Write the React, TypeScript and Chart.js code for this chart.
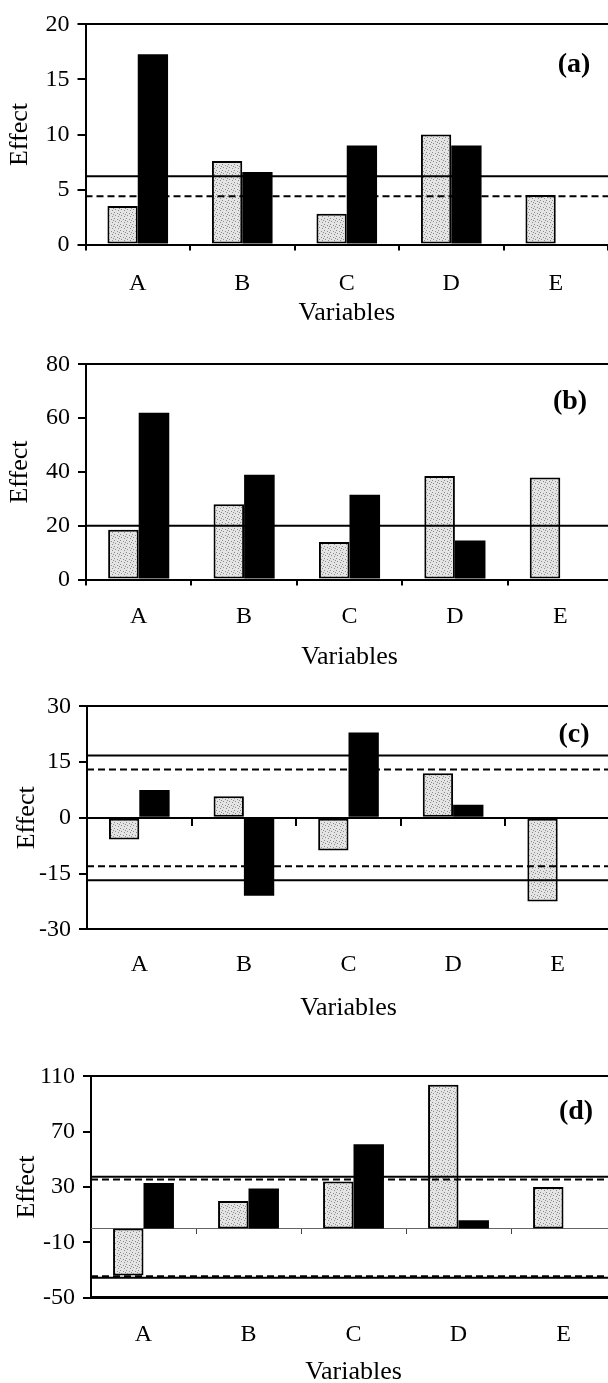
import React, { useEffect, useRef } from 'react';
import { Chart, registerables } from 'chart.js';

Chart.register(...registerables);

// ---------------- data ----------------
const categories = ['A', 'B', 'C', 'D', 'E'];

const greyA = [3.5, 7.6, 2.8, 10.0, 4.5];
const blackA = [17.3, 6.6, 9.0, 9.0, null];
const yTicksA = [0, 5, 10, 15, 20];
const solidA = [6.2];
const dashedA = [4.4];

const greyB = [18.5, 28, 14, 38.5, 38];
const blackB = [62, 39, 31.5, 14.5, null];
const yTicksB = [0, 20, 40, 60, 80];
const solidB = [20];
const dashedB: number[] = [];

const greyC = [-5.8, 5.8, -8.8, 12, -22.5];
const blackC = [7.5, -21, 23, 3.5, null];
const yTicksC = [-30, -15, 0, 15, 30];
const solidC = [16.8, -16.8];
const dashedC = [13, -13];

const greyD = [-34, 20, 34, 104, 30];
const blackD = [33, 29, 61, 6, null];
const yTicksD = [-50, -10, 30, 70, 110];
const solidD = [37.5, -35.5];
const dashedD = [35.5, -34.5];

const panelTags = ['(a)', '(b)', '(c)', '(d)'];
const xTitle = 'Variables';
const yTitle = 'Effect';

// ---------------- layout / style ----------------
const FONT = "'Liberation Serif', 'Times New Roman', serif";

type Layout = {
  plotTop: number; plotBottom: number; plotLeft: number; plotRight: number;
  labelY: number; titleY: number; yTitleX: number; tagX: number; tagY: number;
  bottomTicks: boolean; zeroAxis: 'none' | 'black' | 'grey'; bottomBorder: number;
};

const layouts: Layout[] = [
  { plotTop: 21.7, plotBottom: 244.3, plotLeft: 85.5, plotRight: 608, labelY: 283, titleY: 313, yTitleX: 20, tagX: 574, tagY: 63, bottomTicks: true, zeroAxis: 'none', bottomBorder: 2 },
  { plotTop: 361.7, plotBottom: 579.3, plotLeft: 86, plotRight: 613, labelY: 616, titleY: 657, yTitleX: 20, tagX: 570, tagY: 400, bottomTicks: true, zeroAxis: 'none', bottomBorder: 2 },
  { plotTop: 704, plotBottom: 929.3, plotLeft: 87, plotRight: 610, labelY: 965, titleY: 1008, yTitleX: 27, tagX: 574, tagY: 733, bottomTicks: false, zeroAxis: 'black', bottomBorder: 2 },
  { plotTop: 1074, plotBottom: 1297.7, plotLeft: 91, plotRight: 616, labelY: 1335, titleY: 1372, yTitleX: 27, tagX: 576, tagY: 1110, bottomTicks: false, zeroAxis: 'grey', bottomBorder: 3 },
];

type Series = { grey: (number | null)[]; black: (number | null)[]; yTicks: number[]; solid: number[]; dashed: number[] };
const series: Series[] = [
  { grey: greyA, black: blackA, yTicks: yTicksA, solid: solidA, dashed: dashedA },
  { grey: greyB, black: blackB, yTicks: yTicksB, solid: solidB, dashed: dashedB },
  { grey: greyC, black: blackC, yTicks: yTicksC, solid: solidC, dashed: dashedC },
  { grey: greyD, black: blackD, yTicks: yTicksD, solid: solidD, dashed: dashedD },
];

const PAD_TOP = 20;
const TICK_FONT = 24;
const TITLE_FONT = 26;

function makeStipple(): CanvasPattern | string {
  const c = document.createElement('canvas');
  c.width = 6; c.height = 6;
  const g = c.getContext('2d');
  if (!g) return '#d8d8d8';
  g.fillStyle = '#e4e4e4';
  g.fillRect(0, 0, 6, 6);
  g.fillStyle = '#8c8c8c';
  [[0, 0], [3, 1], [1, 3], [4, 4], [5, 2]].forEach(([x, y]) => g.fillRect(x, y, 1, 1));
  return g.createPattern(c, 'repeat') || '#d8d8d8';
}

const refLinesPlugin = {
  id: 'refLines',
  afterDatasetsDraw(chart: any, _args: any, opts: any) {
    const { ctx, chartArea } = chart;
    const y = chart.scales.y;
    ctx.save();
    ctx.strokeStyle = '#000';
    (opts.lines || []).forEach((l: any) => {
      const py = y.getPixelForValue(l.value);
      ctx.lineWidth = l.width;
      ctx.setLineDash(l.dash);
      ctx.beginPath();
      ctx.moveTo(chartArea.left, py);
      ctx.lineTo(chartArea.right, py);
      ctx.stroke();
    });
    ctx.restore();
  },
};

function Panel({ idx }: { idx: number }) {
  const ref = useRef<HTMLCanvasElement | null>(null);
  const L = layouts[idx];
  const S = series[idx];
  const plotH = L.plotBottom - L.plotTop;
  const rawAxisH = L.titleY + (TITLE_FONT * 1.2) / 2 - L.plotBottom;
  const H = Math.round(PAD_TOP + plotH + rawAxisH);
  const axisH = H - PAD_TOP - plotH;
  const W = Math.round(L.plotRight);
  const canvasTop = L.plotTop - PAD_TOP;

  useEffect(() => {
    if (!ref.current) return;
    const stipple = makeStipple();
    const tl = L.bottomTicks ? 6 : 0;
    const labelPad = L.labelY - L.plotBottom - tl - (TICK_FONT * 1.2) / 2;
    const yMin = S.yTicks[0];
    const yMax = S.yTicks[S.yTicks.length - 1];
    const step = S.yTicks[1] - S.yTicks[0];

    const lines = [
      ...S.solid.map((v) => ({ value: v, width: 2, dash: [] as number[] })),
      ...S.dashed.map((v) => ({ value: v, width: 2, dash: [7, 4] })),
    ];

    const scales: any = {
      x: {
        type: 'category',
        position: 'bottom',
        offset: true,
        grid: { offset: true, drawOnChartArea: false, drawTicks: L.bottomTicks, tickLength: 6, color: '#000', lineWidth: 2 },
        border: { color: '#000', width: L.bottomBorder },
        ticks: { color: '#000', font: { family: FONT, size: TICK_FONT }, padding: labelPad, maxRotation: 0, autoSkip: false },
        title: { display: true, text: xTitle, color: '#000', font: { family: FONT, size: TITLE_FONT }, padding: { top: 0, bottom: 0 } },
        afterFit: (s: any) => { s.height = axisH; },
      },
      xTop: {
        type: 'category',
        position: 'top',
        offset: true,
        grid: { offset: true, drawOnChartArea: false, drawTicks: false },
        border: { color: '#000', width: 2 },
        ticks: { display: false },
        afterFit: (s: any) => { s.height = 0; },
      },
      y: {
        type: 'linear',
        position: 'left',
        min: yMin,
        max: yMax,
        ticks: { stepSize: step, color: '#000', font: { family: FONT, size: TICK_FONT }, padding: 8 },
        grid: { drawOnChartArea: false, drawTicks: true, tickLength: 8, color: '#000', lineWidth: 2 },
        border: { color: '#000', width: 2 },
        title: { display: true, text: yTitle, color: '#000', font: { family: FONT, size: TITLE_FONT }, padding: { top: L.yTitleX - (TITLE_FONT * 1.2) / 2, bottom: 0 } },
        afterFit: (s: any) => { s.width = L.plotLeft; },
      },
    };
    if (L.zeroAxis !== 'none') {
      const grey = L.zeroAxis === 'grey';
      scales.x0 = {
        type: 'category',
        position: { y: 0 },
        offset: true,
        grid: { offset: true, drawOnChartArea: false, drawTicks: true, tickLength: grey ? 5 : 7, color: grey ? '#444' : '#000', lineWidth: grey ? 1 : 2 },
        border: { color: grey ? '#666' : '#000', width: grey ? 1 : 2 },
        ticks: { display: false },
      };
    }

    const chart = new Chart(ref.current, {
      type: 'bar',
      data: {
        labels: categories,
        datasets: [
          { data: S.grey, backgroundColor: stipple as any, borderColor: '#000', borderWidth: 2, borderSkipped: false, xAxisID: 'x', yAxisID: 'y' },
          { data: S.black, backgroundColor: '#000', borderColor: '#000', borderWidth: 0, borderSkipped: false, xAxisID: 'x', yAxisID: 'y' },
        ],
      },
      options: {
        responsive: false,
        animation: false,
        devicePixelRatio: 1,
        datasets: { bar: { categoryPercentage: 0.58, barPercentage: 1 } },
        layout: { padding: { top: PAD_TOP, left: 0, right: 0, bottom: 0 } },
        scales,
        plugins: {
          legend: { display: false },
          tooltip: { enabled: false },
          refLines: { lines },
        } as any,
      },
      plugins: [refLinesPlugin],
    });
    return () => chart.destroy();
  }, [idx]);

  return (
    <>
      <canvas
        ref={ref}
        width={W}
        height={H}
        style={{ position: 'absolute', left: 0, top: canvasTop, width: W, height: H }}
      />
      <div
        style={{
          position: 'absolute', left: L.tagX, top: L.tagY, transform: 'translate(-50%, -50%)',
          fontFamily: FONT, fontWeight: 'bold', fontSize: 28, lineHeight: 1, color: '#000', whiteSpace: 'nowrap',
        }}
      >
        {panelTags[idx]}
      </div>
    </>
  );
}

export default function App() {
  return (
    <div style={{ position: 'fixed', left: 0, top: 0, width: 608, height: 1383, overflow: 'hidden', background: '#fff' }}>
      {layouts.map((_, i) => (
        <Panel key={i} idx={i} />
      ))}
    </div>
  );
}
